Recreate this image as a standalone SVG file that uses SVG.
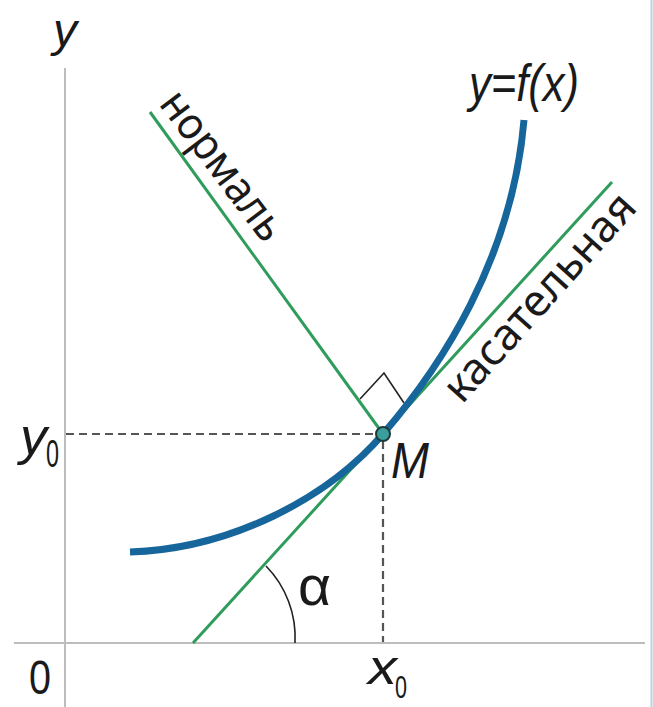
<svg xmlns="http://www.w3.org/2000/svg" width="653" height="707" viewBox="0 0 653 707">
<style>
.axis{stroke:#bdbdbd;stroke-width:2;fill:none}
.green{stroke:#2f9c5c;stroke-width:3;fill:none}
.dash{stroke:#555;stroke-width:2.2;stroke-dasharray:8 5;fill:none}
.thin{stroke:#222;stroke-width:1.6;fill:none}
.curve{stroke:#17669b;stroke-width:7;fill:none;stroke-linecap:butt}
.math{font-family:"Liberation Sans",Arial,sans-serif;font-style:italic;fill:#1a1a1a}
.up{font-family:"Liberation Sans",Arial,sans-serif;fill:#1a1a1a}
.lbl{font-family:"Noto Sans","Liberation Sans",sans-serif;fill:#1a1a1a}
</style>
<rect width="653" height="707" fill="#ffffff"/>
<line x1="651.5" y1="0" x2="651.5" y2="707" stroke="#b8d2e6" stroke-width="2"/>
<g id="axes">
<line class="axis" x1="65" y1="68" x2="65" y2="707"/>
<line class="axis" x1="14" y1="643" x2="645" y2="643"/>
</g>
<g id="connectors">
<line class="dash" x1="66" y1="434" x2="376" y2="434"/>
<line class="dash" x1="383" y1="441" x2="383" y2="642"/>
<line id="normal-line" class="green" x1="150" y1="112" x2="383" y2="434"/>
<line id="tangent-line" class="green" x1="193" y1="643" x2="612" y2="182"/>
<polyline class="thin" points="360,399 384,373 404,403"/>
<path class="thin" d="M266,566 A102,102 0 0 1 295,643"/>
</g>
<g id="graph">
<path class="curve" d="M130,552 C230,549 327,499 383,434 C440,368 512,260 524,120"/>
</g>
<g id="point-M">
<circle cx="383" cy="434" r="7" fill="#3a9e9c" stroke="#1e3b3a" stroke-width="2"/>
<text class="math" x="391" y="478" font-size="50" textLength="38" lengthAdjust="spacingAndGlyphs">M</text>
</g>
<g id="labels">
<text class="math" x="53" y="46" font-size="47" textLength="24" lengthAdjust="spacingAndGlyphs">y</text>
<text class="math" x="469" y="101" font-size="52" textLength="110" lengthAdjust="spacingAndGlyphs">y=f(x)</text>
<text class="math" x="20" y="454" font-size="52" textLength="27" lengthAdjust="spacingAndGlyphs">y</text>
<text class="up" x="46" y="467" font-size="38" textLength="13" lengthAdjust="spacingAndGlyphs">0</text>
<text class="up" x="29" y="694" font-size="48" textLength="22" lengthAdjust="spacingAndGlyphs">0</text>
<text class="math" x="368" y="684" font-size="48" textLength="29" lengthAdjust="spacingAndGlyphs">x</text>
<text class="up" x="395" y="698" font-size="32" textLength="12" lengthAdjust="spacingAndGlyphs">0</text>
<text class="up" x="298" y="605" font-size="56" textLength="33" lengthAdjust="spacingAndGlyphs">α</text>
</g>
<g id="normal-label">
<text class="lbl" transform="translate(158,104) rotate(53)" font-size="44" textLength="176" lengthAdjust="spacingAndGlyphs">нормаль</text>
</g>
<g id="tangent-label">
<text class="lbl" transform="translate(462,405) rotate(-48)" font-size="44" textLength="264" lengthAdjust="spacingAndGlyphs">касательная</text>
</g>
</svg>
